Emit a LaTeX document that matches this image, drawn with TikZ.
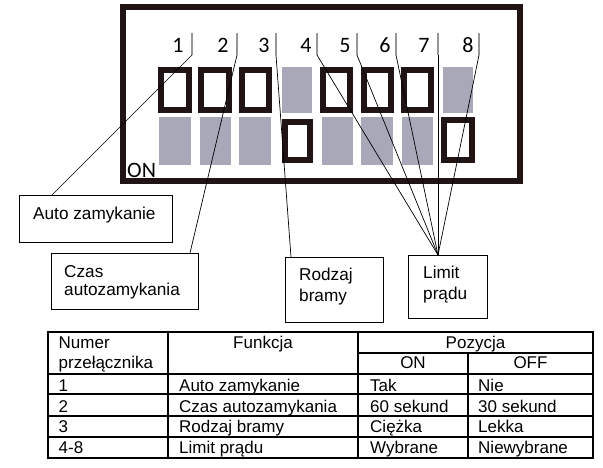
\documentclass[tikz,border=0pt]{standalone}
\usepackage{fontspec}
\setmainfont{Liberation Sans}
\newfontfamily\calib{Carlito}
\definecolor{swgray}{RGB}{168,168,184}
\definecolor{swblack}{RGB}{32,20,20}
\definecolor{tickgray}{RGB}{150,150,150}
\begin{document}
\begin{tikzpicture}[x=1pt,y=-1pt,
  txt/.style={font=\fontsize{17}{20}\selectfont, inner sep=0pt, anchor=base west},
  ltxt/.style={font=\fontsize{17.2}{20}\selectfont, inner sep=0pt, anchor=base west},
  ctxt/.style={font=\fontsize{17}{20}\selectfont, inner sep=0pt, anchor=base},
  dig/.style={font=\calib\fontsize{22}{24}\selectfont, inner sep=0pt, anchor=base},
  lbox/.style={draw, line width=1.2pt, inner sep=0pt, anchor=north west},
  swon/.style={draw=swblack, line width=6pt, inner sep=0pt, fill=white},
  swoff/.style={fill=swgray, inner sep=0pt},
  tickline/.style={draw=tickgray, line width=2.2pt},
  lead/.style={draw, line width=0.7pt},
  grid/.style={draw, line width=1.3pt}]
\useasboundingbox (0,0) rectangle (603,468);

% frame
\node[draw=swblack, line width=6pt, inner sep=0pt, minimum width=397pt, minimum height=174pt] (frame) at (321.5,94) {};
\node[font=\calib\fontsize{22}{24}\selectfont, inner sep=0pt, anchor=base west] (on) at (127,178) {ON};

% top row
\node[swon, minimum width=28pt, minimum height=40pt] (a1) at (175,90) {};
\node[swon, minimum width=28pt, minimum height=40pt] (a2) at (215,90) {};
\node[swon, minimum width=27pt, minimum height=40pt] (a3) at (255.5,90) {};
\node[swoff, minimum width=30pt, minimum height=46pt] (a4) at (297,90) {};
\node[swon, minimum width=27pt, minimum height=40pt] (a5) at (336.5,90) {};
\node[swon, minimum width=27pt, minimum height=40pt] (a6) at (377.5,90) {};
\node[swon, minimum width=27pt, minimum height=40pt] (a7) at (417.5,90) {};
\node[swoff, minimum width=30pt, minimum height=46pt] (a8) at (458,90) {};
% bottom row
\node[swoff, minimum width=32pt, minimum height=48pt] (b1) at (175,141) {};
\node[swoff, minimum width=31pt, minimum height=48pt] (b2) at (215.5,141) {};
\node[swoff, minimum width=32pt, minimum height=48pt] (b3) at (255,141) {};
\node[swon, minimum width=25pt, minimum height=38pt] (b4) at (297.5,141) {};
\node[swoff, minimum width=31pt, minimum height=48pt] (b5) at (337.5,141) {};
\node[swoff, minimum width=32pt, minimum height=48pt] (b6) at (377,141) {};
\node[swoff, minimum width=31pt, minimum height=48pt] (b7) at (417.5,141) {};
\node[swon, minimum width=28pt, minimum height=40pt] (b8) at (458,140) {};

% digits
\node[dig] (d1) at (178,53) {1};
\node[dig] (d2) at (223,53) {2};
\node[dig] (d3) at (264,53) {3};
\node[dig] (d4) at (306,53) {4};
\node[dig] (d5) at (345,53) {5};
\node[dig] (d6) at (385,53) {6};
\node[dig] (d7) at (424,53) {7};
\node[dig] (d8) at (468,53) {8};

% ticks
\foreach \i/\x in {1/192,2/237,3/276,4/317,5/357,6/396,7/438,8/479}{
  \draw[tickline] (\x,33) -- (\x,55);
  \coordinate (t\i) at (\x,55);
}

% label boxes
\node[lbox, minimum width=153pt, minimum height=47pt] (autobox) at (19,195) {};
\node[ltxt] (autotxt) at (33,219) {Auto zamykanie};
\node[lbox, minimum width=147pt, minimum height=56pt] (czasbox) at (51,253) {};
\node[ltxt] (czastxt1) at (64,277) {Czas};
\node[ltxt] (czastxt2) at (64,295) {autozamykania};
\node[lbox, minimum width=98pt, minimum height=65pt] (rodzbox) at (285,257) {};
\node[ltxt] (rodztxt1) at (299,280) {Rodzaj};
\node[ltxt] (rodztxt2) at (299,301) {bramy};
\node[lbox, minimum width=79pt, minimum height=63pt] (limbox) at (408,255) {};
\node[ltxt] (limtxt1) at (423,278) {Limit};
\node[ltxt] (limtxt2) at (423,299) {prądu};

\coordinate (e1) at (52,195);
\coordinate (e2) at (190,253);
\coordinate (e3) at (291,257);
\coordinate (e4) at (438,255);

% leader lines
\draw[lead] (t1) -- (e1);
\draw[lead] (t2) -- (e2);
\draw[lead] (t3) -- (e3);
\foreach \i in {4,...,8}{ \draw[lead] (t\i) -- (e4); }

% table
\draw[grid] (48,332) rectangle (593,458);
\draw[grid] (358,353) -- (593,353);
\foreach \y in {374,394,416,437}{ \draw[grid] (48,\y) -- (593,\y); }
\draw[grid] (168,332) -- (168,458);
\draw[grid] (358,332) -- (358,458);
\draw[grid] (468,353) -- (468,458);

\node[txt] (h1a) at (58.5,348) {Numer};
\node[txt] (h1b) at (58.5,368) {przełącznika};
\node[ctxt] (h2) at (263,348) {Funkcja};
\node[ctxt] (h3) at (475.5,348) {Pozycja};
\node[ctxt] (h4) at (413,368) {ON};
\node[ctxt] (h5) at (530.5,368) {OFF};

\node[txt] (r1c1) at (58.5,391) {1};
\node[txt] (r1c2) at (179,391) {Auto zamykanie};
\node[txt] (r1c3) at (370,391) {Tak};
\node[txt] (r1c4) at (478,391) {Nie};
\node[txt] (r2c1) at (58.5,412) {2};
\node[txt] (r2c2) at (179,412) {Czas autozamykania};
\node[txt] (r2c3) at (370,412) {60 sekund};
\node[txt] (r2c4) at (478,412) {30 sekund};
\node[txt] (r3c1) at (58.5,432) {3};
\node[txt] (r3c2) at (179,432) {Rodzaj bramy};
\node[txt] (r3c3) at (370,432) {Ciężka};
\node[txt] (r3c4) at (478,432) {Lekka};
\node[txt] (r4c1) at (58.5,453) {4-8};
\node[txt] (r4c2) at (179,453) {Limit prądu};
\node[txt] (r4c3) at (370,453) {Wybrane};
\node[txt] (r4c4) at (478,453) {Niewybrane};
\end{tikzpicture}
\end{document}
